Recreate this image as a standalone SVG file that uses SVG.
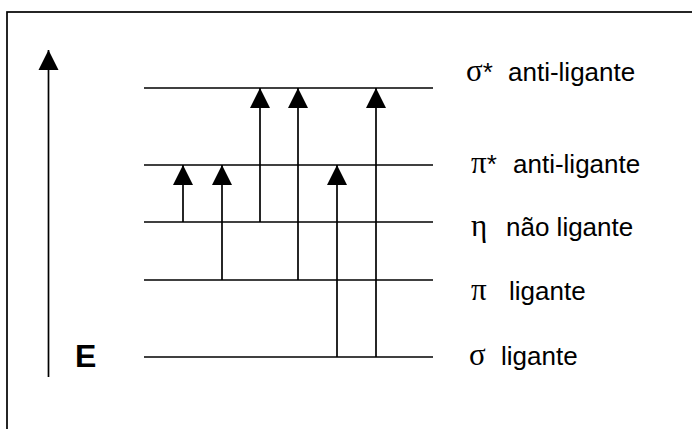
<svg xmlns="http://www.w3.org/2000/svg" width="692" height="429" viewBox="0 0 692 429">
  <style>
    .frame { fill: none; stroke: #000; stroke-width: 1.7; }
    .level { stroke: #000; stroke-width: 1.7; fill: none; }
    .trans { stroke: #000; stroke-width: 1.7; fill: none; marker-end: url(#head); }
    .lbl { font-family: "Liberation Sans", Arial, sans-serif; font-size: 26px; fill: #000; }
    .greek { font-family: "Liberation Serif", "Times New Roman", serif; font-size: 31px; }
    .axis-lbl { font-family: "Liberation Sans", Arial, sans-serif; font-size: 32px; font-weight: bold; fill: #000; }
  </style>
  <defs>
    <marker id="head" markerUnits="userSpaceOnUse" markerWidth="20" markerHeight="21" refX="20" refY="10" orient="auto" viewBox="0 0 20 20">
      <path d="M0,0 L20,10 L0,20 Z" fill="#000"/>
    </marker>
  </defs>

  <rect fill="#fff" x="0" y="0" width="692" height="429"/>
  <!-- outer frame, running off the right and bottom edges -->
  <rect class="frame" x="7" y="12" width="700" height="430"/>

  <!-- energy axis -->
  <g id="energy-axis">
    <line class="trans" x1="48.5" y1="377" x2="48.5" y2="50"/>
    <text class="axis-lbl" x="75" y="367">E</text>
  </g>

  <!-- orbital energy levels -->
  <g id="sigma-star">
    <line class="level" x1="144" y1="88" x2="433" y2="88"/>
    <text class="lbl" x="466" y="81"><tspan class="greek">σ</tspan>*<tspan x="508">anti-ligante</tspan></text>
  </g>
  <g id="pi-star">
    <line class="level" x1="144" y1="165" x2="433" y2="165"/>
    <text class="lbl" x="471" y="173"><tspan class="greek">π</tspan>*<tspan x="513">anti-ligante</tspan></text>
  </g>
  <g id="n-nonbonding">
    <line class="level" x1="144" y1="222" x2="433" y2="222"/>
    <text class="lbl" x="471" y="236"><tspan class="greek">η</tspan><tspan x="506">não ligante</tspan></text>
  </g>
  <g id="pi">
    <line class="level" x1="144" y1="280" x2="433" y2="280"/>
    <text class="lbl" x="471" y="300"><tspan class="greek">π</tspan><tspan x="509">ligante</tspan></text>
  </g>
  <g id="sigma">
    <line class="level" x1="144" y1="357" x2="433" y2="357"/>
    <text class="lbl" x="469" y="365"><tspan class="greek">σ</tspan><tspan x="501">ligante</tspan></text>
  </g>

  <!-- electronic transitions -->
  <g id="transitions">
    <line class="trans" x1="183" y1="222" x2="183" y2="165"/>
    <line class="trans" x1="222" y1="280" x2="222" y2="165"/>
    <line class="trans" x1="260" y1="222" x2="260" y2="88"/>
    <line class="trans" x1="298" y1="280" x2="298" y2="88"/>
    <line class="trans" x1="337" y1="357" x2="337" y2="165"/>
    <line class="trans" x1="376" y1="357" x2="376" y2="88"/>
  </g>
</svg>
